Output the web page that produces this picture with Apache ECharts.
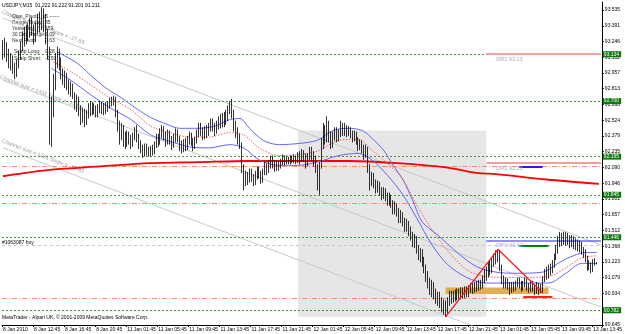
<!DOCTYPE html>
<html><head><meta charset="utf-8">
<script src="https://cdn.jsdelivr.net/npm/echarts@6/dist/echarts.min.js"></script>
<style>html,body{margin:0;padding:0;background:#fff}#c{width:625px;height:334px}</style>
</head><body><div id="c"></div>
<script>
// ---- data ----
const barCount = 309;
const timeLabels = ['8 Jan 2010','8 Jan 12:45','8 Jan 16:45','8 Jan 20:45','11 Jan 01:45','11 Jan 05:45','11 Jan 09:45','11 Jan 13:45','11 Jan 17:45','11 Jan 21:45','12 Jan 01:45','12 Jan 05:45','12 Jan 09:45','12 Jan 13:45','12 Jan 17:45','12 Jan 21:45','13 Jan 01:45','13 Jan 05:45','13 Jan 09:45','13 Jan 13:45'];
const priceTicks = [93.535,93.391,93.246,93.102,92.957,92.813,92.668,92.524,92.379,92.235,92.090,91.946,91.801,91.657,91.512,91.368,91.223,91.079,90.934,90.790,90.645];

const opens = [93.20,93.12,93.22,93.15,93.05,93.10,93.00,92.96,93.04,93.12,
93.20,93.30,93.26,93.36,93.32,93.40,93.34,93.28,93.36,93.44,
93.40,93.48,93.40,93.30,93.15,92.50,92.70,92.90,93.10,93.15,
93.05,92.95,92.90,92.94,92.86,92.80,92.84,92.76,92.68,92.72,
92.62,92.55,92.60,92.52,92.58,92.64,92.60,92.66,92.62,92.58,
92.63,92.67,92.61,92.65,92.62,92.66,92.70,92.68,92.72,92.60,
92.48,92.40,92.46,92.38,92.32,92.40,92.36,92.30,92.38,92.42,
92.36,92.30,92.26,92.22,92.28,92.24,92.20,92.25,92.22,92.30,
92.36,92.32,92.40,92.44,92.38,92.34,92.40,92.35,92.30,92.36,
92.42,92.36,92.30,92.26,92.32,92.28,92.34,92.38,92.33,92.28,
92.34,92.40,92.46,92.42,92.38,92.44,92.40,92.45,92.50,92.46,
92.42,92.48,92.52,92.48,92.55,92.50,92.56,92.62,92.66,92.58,
92.48,92.42,92.36,92.30,92.10,91.96,92.02,91.98,92.04,92.00,
91.96,92.02,92.07,92.03,91.98,92.04,92.10,92.06,92.12,92.16,
92.12,92.08,92.13,92.10,92.14,92.18,92.14,92.17,92.14,92.18,
92.15,92.18,92.16,92.20,92.17,92.22,92.18,92.14,92.19,92.24,
92.20,92.16,92.10,91.98,92.10,92.30,92.42,92.36,92.45,92.38,
92.30,92.38,92.42,92.36,92.40,92.46,92.42,92.46,92.41,92.44,
92.40,92.36,92.40,92.34,92.28,92.32,92.26,92.22,92.26,92.10,
91.96,92.02,91.96,91.90,91.94,91.88,91.84,91.88,91.82,91.78,
91.82,91.76,91.70,91.74,91.68,91.62,91.66,91.60,91.54,91.58,
91.52,91.46,91.40,91.44,91.36,91.28,91.32,91.24,91.18,91.10,
91.04,90.98,91.02,90.94,90.88,90.92,90.86,90.80,90.84,90.78,
90.86,90.92,90.88,90.93,90.90,90.94,90.91,90.95,90.92,90.96,
90.93,90.97,91.00,90.96,91.01,90.98,91.03,91.00,91.06,91.12,
91.10,91.18,91.15,91.22,91.28,91.26,91.30,91.18,91.06,91.00,
91.04,91.00,90.96,91.01,90.98,91.02,91.06,91.02,90.98,91.02,
91.05,91.00,90.97,91.02,90.98,90.95,91.00,90.96,90.98,91.06,
91.12,91.10,91.16,91.14,91.20,91.26,91.34,91.40,91.46,91.42,
91.48,91.42,91.45,91.40,91.44,91.38,91.41,91.36,91.39,91.33,
91.30,91.26,91.18,91.20,91.16,91.22,91.222];
const closes = [93.12,93.22,93.15,93.05,93.10,93.00,92.96,93.04,93.12,93.20,
93.30,93.26,93.36,93.32,93.40,93.34,93.28,93.36,93.44,93.40,
93.48,93.40,93.30,93.15,92.50,92.70,92.90,93.10,93.15,93.05,
92.95,92.90,92.94,92.86,92.80,92.84,92.76,92.68,92.72,92.62,
92.55,92.60,92.52,92.58,92.64,92.60,92.66,92.62,92.58,92.63,
92.67,92.61,92.65,92.62,92.66,92.70,92.68,92.72,92.60,92.48,
92.40,92.46,92.38,92.32,92.40,92.36,92.30,92.38,92.42,92.36,
92.30,92.26,92.22,92.28,92.24,92.20,92.25,92.22,92.30,92.36,
92.32,92.40,92.44,92.38,92.34,92.40,92.35,92.30,92.36,92.42,
92.36,92.30,92.26,92.32,92.28,92.34,92.38,92.33,92.28,92.34,
92.40,92.46,92.42,92.38,92.44,92.40,92.45,92.50,92.46,92.42,
92.48,92.52,92.48,92.55,92.50,92.56,92.62,92.66,92.58,92.48,
92.42,92.36,92.30,92.10,91.96,92.02,91.98,92.04,92.00,91.96,
92.02,92.07,92.03,91.98,92.04,92.10,92.06,92.12,92.16,92.12,
92.08,92.13,92.10,92.14,92.18,92.14,92.17,92.14,92.18,92.15,
92.18,92.16,92.20,92.17,92.22,92.18,92.14,92.19,92.24,92.20,
92.16,92.10,91.98,92.10,92.30,92.42,92.36,92.45,92.38,92.30,
92.38,92.42,92.36,92.40,92.46,92.42,92.46,92.41,92.44,92.40,
92.36,92.40,92.34,92.28,92.32,92.26,92.22,92.26,92.10,91.96,
92.02,91.96,91.90,91.94,91.88,91.84,91.88,91.82,91.78,91.82,
91.76,91.70,91.74,91.68,91.62,91.66,91.60,91.54,91.58,91.52,
91.46,91.40,91.44,91.36,91.28,91.32,91.24,91.18,91.10,91.04,
90.98,91.02,90.94,90.88,90.92,90.86,90.80,90.84,90.78,90.86,
90.92,90.88,90.93,90.90,90.94,90.91,90.95,90.92,90.96,90.93,
90.97,91.00,90.96,91.01,90.98,91.03,91.00,91.06,91.12,91.10,
91.18,91.15,91.22,91.28,91.26,91.30,91.18,91.06,91.00,91.04,
91.00,90.96,91.01,90.98,91.02,91.06,91.02,90.98,91.02,91.05,
91.00,90.97,91.02,90.98,90.95,91.00,90.96,90.98,91.06,91.12,
91.10,91.16,91.14,91.20,91.26,91.34,91.40,91.46,91.42,91.48,
91.42,91.45,91.40,91.44,91.38,91.41,91.36,91.39,91.33,91.30,
91.26,91.18,91.20,91.16,91.22,91.222,91.211];
const lows = [93.08,93.10,93.06,93.00,92.98,92.95,92.90,92.92,93.00,93.08,
93.16,93.20,93.22,93.25,93.28,93.30,93.22,93.24,93.32,93.33,
93.35,93.33,93.22,93.08,92.30,92.28,92.55,92.80,93.00,92.98,
92.90,92.85,92.82,92.80,92.76,92.74,92.72,92.62,92.60,92.56,
92.48,92.50,92.46,92.48,92.54,92.56,92.57,92.58,92.55,92.55,
92.59,92.58,92.57,92.58,92.60,92.63,92.65,92.66,92.55,92.42,
92.30,92.34,92.28,92.26,92.28,92.30,92.26,92.28,92.34,92.32,
92.26,92.22,92.18,92.19,92.20,92.19,92.19,92.20,92.21,92.27,
92.28,92.30,92.36,92.34,92.28,92.30,92.30,92.25,92.27,92.32,
92.32,92.24,92.22,92.23,92.24,92.25,92.30,92.29,92.24,92.26,
92.31,92.37,92.38,92.34,92.35,92.36,92.38,92.42,92.42,92.38,
92.40,92.44,92.45,92.46,92.46,92.48,92.52,92.58,92.54,92.42,
92.36,92.30,92.26,92.04,91.88,91.92,91.93,91.95,91.96,91.92,
91.93,91.98,91.99,91.94,91.95,92.02,92.02,92.04,92.08,92.08,
92.05,92.06,92.06,92.08,92.11,92.11,92.12,92.12,92.12,92.13,
92.13,92.12,92.13,92.12,92.14,92.14,92.08,92.10,92.16,92.15,
92.10,92.04,91.88,91.84,92.08,92.26,92.30,92.32,92.32,92.26,
92.27,92.34,92.32,92.33,92.37,92.38,92.38,92.37,92.38,92.36,
92.32,92.33,92.30,92.24,92.25,92.22,92.16,92.18,92.04,91.88,
91.92,91.90,91.85,91.86,91.83,91.79,91.80,91.78,91.74,91.74,
91.72,91.66,91.66,91.64,91.58,91.58,91.55,91.50,91.50,91.46,
91.42,91.36,91.35,91.30,91.24,91.22,91.18,91.12,91.04,90.98,
90.92,90.90,90.88,90.84,90.82,90.80,90.76,90.74,90.72,90.75,
90.82,90.84,90.85,90.86,90.87,90.88,90.88,90.89,90.89,90.90,
90.90,90.94,90.93,90.94,90.95,90.96,90.97,90.98,91.03,91.05,
91.08,91.10,91.12,91.18,91.20,91.22,91.14,91.02,90.98,90.98,
90.97,90.92,90.94,90.95,90.96,90.99,90.98,90.95,90.96,90.99,
90.96,90.94,90.95,90.95,90.92,90.93,90.92,90.94,90.94,91.04,
91.06,91.07,91.10,91.12,91.17,91.24,91.30,91.36,91.37,91.38,
91.37,91.38,91.35,91.36,91.34,91.33,91.32,91.31,91.29,91.26,
91.22,91.14,91.15,91.12,91.13,91.19,91.201];
const highs = [93.26,93.28,93.24,93.18,93.14,93.12,93.05,93.08,93.16,93.25,
93.34,93.38,93.40,93.42,93.46,93.47,93.40,93.42,93.50,93.52,
93.56,93.55,93.50,93.36,93.20,92.74,92.95,93.14,93.20,93.18,
93.10,93.00,92.98,92.96,92.90,92.88,92.86,92.78,92.76,92.74,
92.66,92.64,92.63,92.62,92.68,92.70,92.69,92.68,92.66,92.67,
92.70,92.69,92.68,92.69,92.70,92.73,92.74,92.75,92.74,92.62,
92.52,92.50,92.48,92.42,92.43,92.42,92.39,92.41,92.46,92.48,
92.40,92.34,92.30,92.31,92.31,92.28,92.29,92.30,92.33,92.40,
92.40,92.45,92.48,92.47,92.42,92.44,92.43,92.38,92.40,92.45,
92.44,92.38,92.34,92.35,92.36,92.38,92.42,92.41,92.36,92.37,
92.44,92.50,92.50,92.46,92.47,92.48,92.50,92.54,92.54,92.50,
92.52,92.56,92.58,92.59,92.60,92.62,92.66,92.70,92.72,92.62,
92.52,92.46,92.40,92.32,92.12,92.06,92.05,92.08,92.08,92.03,
92.06,92.10,92.10,92.06,92.08,92.14,92.13,92.16,92.20,92.20,
92.16,92.16,92.15,92.17,92.21,92.20,92.19,92.19,92.20,92.20,
92.21,92.20,92.23,92.24,92.26,92.25,92.22,92.22,92.28,92.28,
92.24,92.20,92.12,92.14,92.36,92.50,92.48,92.56,92.52,92.42,
92.42,92.46,92.46,92.44,92.52,92.50,92.50,92.48,92.47,92.46,
92.43,92.43,92.42,92.37,92.35,92.34,92.30,92.30,92.28,92.12,
92.05,92.04,91.98,91.97,91.96,91.91,91.91,91.90,91.86,91.86,
91.84,91.79,91.78,91.76,91.72,91.70,91.68,91.63,91.62,91.60,
91.55,91.50,91.48,91.46,91.38,91.35,91.34,91.27,91.20,91.14,
91.08,91.06,91.04,90.98,90.95,90.95,90.90,90.88,90.87,90.90,
90.96,90.96,90.96,90.97,90.98,90.98,90.99,90.99,91.00,91.00,
91.01,91.03,91.03,91.04,91.05,91.06,91.06,91.10,91.16,91.18,
91.22,91.24,91.26,91.30,91.33,91.34,91.33,91.20,91.10,91.08,
91.07,91.04,91.04,91.04,91.05,91.08,91.08,91.05,91.05,91.08,
91.07,91.03,91.05,91.05,91.02,91.04,91.03,91.02,91.09,91.16,
91.18,91.20,91.21,91.24,91.30,91.38,91.46,91.50,91.49,91.50,
91.50,91.49,91.47,91.47,91.46,91.44,91.43,91.42,91.41,91.36,
91.34,91.28,91.24,91.22,91.25,91.26,91.222];

// indicator lines: [bar index, price]
const longMA = [[0,92.01],[25,92.07],[50,92.10],[76,92.13],[101,92.14],[127,92.15],[152,92.15],[178,92.15],[203,92.13],[229,92.09],[244,92.04],[254,92.03],[280,91.98],[307,91.94]];
const upperBand = [[28,93.15],[38,93.05],[45,92.94],[53,92.82],[61,92.73],[68,92.64],[76,92.55],[84,92.49],[91,92.45],[101,92.45],[109,92.47],[117,92.53],[122,92.54],[127,92.45],[134,92.34],[142,92.30],[152,92.31],[162,92.34],[170,92.43],[178,92.45],[185,92.43],[190,92.36],[196,92.25],[201,92.11],[206,91.98],[211,91.79],[216,91.59],[224,91.47],[234,91.31],[244,91.18],[254,91.13],[264,91.12],[278,91.13],[285,91.20],[291,91.26],[300,91.31],[306,91.31]];
const midBand = [[26,93.06],[35,92.97],[45,92.85],[55,92.73],[66,92.62],[76,92.47],[86,92.41],[96,92.37],[106,92.37],[117,92.41],[124,92.39],[132,92.27],[142,92.20],[152,92.21],[162,92.24],[173,92.34],[183,92.35],[190,92.25],[198,92.13],[206,91.98],[213,91.75],[221,91.52],[229,91.33],[239,91.15],[249,91.09],[264,91.08],[281,91.09],[290,91.17],[298,91.26],[306,91.28]];
const lowerBand = [[25,93.00],[35,92.89],[45,92.76],[55,92.64],[66,92.53],[76,92.39],[86,92.33],[96,92.28],[106,92.27],[117,92.30],[124,92.27],[132,92.16],[142,92.11],[152,92.11],[162,92.14],[173,92.20],[183,92.22],[190,92.16],[198,92.02],[206,91.84],[213,91.63],[221,91.38],[229,91.20],[239,91.08],[249,91.03],[281,91.03],[290,91.12],[298,91.21],[306,91.21]];
const channelTop = [[0,93.46],[308,91.38]];
const channelMid = [[0,92.89],[308,90.81]];
const channelLow = [[0,92.27],[308,90.19]];
const zigzag = [[228,90.72],[255,91.34],[278,90.94]];
const greenLevels = [93.134,92.700,92.195,91.845,91.446,90.782];
const orangeLevels = [92.100,91.760,90.890];
const pivots = {DR2:93.13, DR1:92.13, DPV:91.42};
const bid = 91.211;

const cats = Array.from({length: barCount}, (_, i) => String(i));
const candles = opens.map((o, i) => [o, closes[i], lows[i], highs[i]]);

const chart = echarts.init(document.getElementById('c'), null, {renderer: 'canvas'});
const F = 'Liberation Sans, Arial, sans-serif';
const lvl = (v, color, type, box) => ({
  yAxis: v,
  lineStyle: {color: color, type: type, width: 1},
  label: box ? {show: true, position: 'end', distance: 1, formatter: v.toFixed(3), backgroundColor: '#0a7a0a', color: '#fff', fontSize: 5, fontFamily: F, padding: [1, 2, 0, 1]} : {show: false}
});
const seg = (i0, i1, v, color, width, label) => [
  {coord: [i0, v], lineStyle: {color: color, width: width, type: 'solid'},
   label: label ? {show: true, position: 'insideStartBottom', formatter: label, color: '#a6a6c8', fontSize: 5.5, fontFamily: F, distance: [10, 2]} : {show: false}},
  {coord: [i1, v]}
];

chart.setOption({
  animation: false,
  backgroundColor: '#ffffff',
  grid: {left: 0, right: 18, top: 2, bottom: 9},
  xAxis: {
    type: 'category', data: cats, boundaryGap: true,
    axisLine: {lineStyle: {color: '#000', width: 1}},
    axisTick: {show: true, length: 2, interval: (i) => i % 16 === 0, lineStyle: {color: '#000'}},
    axisLabel: {interval: (i) => i % 16 === 0, formatter: (v, i) => timeLabels[Math.round(Number(v) / 16)] || '', fontSize: 5, fontFamily: F, color: '#000', align: 'left', margin: 2},
    splitLine: {show: false}
  },
  yAxis: {
    type: 'value', position: 'right', min: 90.645, max: 93.609, scale: true,
    axisLine: {show: true, lineStyle: {color: '#000', width: 1}},
    axisTick: {show: true, length: 2, customValues: priceTicks, lineStyle: {color: '#000'}},
    axisLabel: {customValues: priceTicks, formatter: (v) => v.toFixed(3), fontSize: 5, fontFamily: F, color: '#000', margin: 3},
    splitLine: {show: false}
  },
  series: [
    {type: 'line', data: [], z: 1, silent: true,
     markArea: {silent: true, data: [
       [{coord: [152, 92.43], itemStyle: {color: '#e6e6e6'}}, {coord: [249, 90.72]}]
     ]}},
    {type: 'line', data: channelTop, showSymbol: false, silent: true, z: 2, lineStyle: {color: '#c8c8c8', width: 1}},
    {type: 'line', data: channelMid, showSymbol: false, silent: true, z: 2, lineStyle: {color: '#c8c8c8', width: 1}},
    {type: 'line', data: channelLow, showSymbol: false, silent: true, z: 2, lineStyle: {color: '#c8c8d8', width: 1}},
    {type: 'line', data: [], z: 3, silent: true,
     markLine: {silent: true, symbol: 'none', animation: false, data: [
       ...greenLevels.map(v => lvl(v, '#3a9a3a', [2, 2], true)),
       ...orangeLevels.map(v => lvl(v, '#ff8a6a', [5, 2, 1, 2], false)),
       lvl(91.38, '#b8d0b8', [3, 3], false),
       seg(249, 308, pivots.DR2, '#f2a0a0', 2, 'DR2 93.13'),
       seg(249, 308, pivots.DR1, '#f2a0a0', 2, 'DR1 92.13'),
       seg(249, 308, pivots.DPV, '#6a6aff', 1.5, 'DPV 91.42'),
       seg(266, 281, 91.37, '#008000', 2, null),
       seg(266, 278, 92.10, '#2020ff', 2, null),
       seg(268, 283, 90.90, '#ff2020', 2, null),
       {yAxis: bid, lineStyle: {opacity: 0}, label: {show: true, position: 'end', distance: 1, formatter: bid.toFixed(3), backgroundColor: '#000', color: '#fff', fontSize: 5, fontFamily: F, padding: [1, 2, 0, 1]}}
     ]}},
    {type: 'line', data: [], z: 4, silent: true,
     markArea: {silent: true, data: [
       [{coord: [228, 90.99], itemStyle: {color: '#dca640', opacity: 0.9}}, {coord: [281, 90.93]}]
     ]}},
    {type: 'line', data: longMA, showSymbol: false, smooth: 0.3, silent: true, z: 5, lineStyle: {color: '#ff0000', width: 1.8}},
    {type: 'line', data: upperBand, showSymbol: false, smooth: 0.3, silent: true, z: 5, lineStyle: {color: '#6464ff', width: 1}},
    {type: 'line', data: lowerBand, showSymbol: false, smooth: 0.3, silent: true, z: 5, lineStyle: {color: '#6464ff', width: 1}},
    {type: 'line', data: midBand, showSymbol: false, smooth: 0.3, silent: true, z: 5, lineStyle: {color: '#ff5a5a', width: 1, type: [1.5, 1.5]}},
    {type: 'candlestick', data: candles, z: 6, barWidth: 1.2, silent: true,
     itemStyle: {color: '#000000', color0: '#000000', borderColor: '#000000', borderColor0: '#000000', borderWidth: 0.8}},
    {type: 'line', data: zigzag, showSymbol: false, silent: true, z: 7, lineStyle: {color: '#ff1010', width: 1.2}}
  ],
  graphic: [
    {type: 'text', left: 2, top: 3, style: {text: 'USDJPY,M15  91.222 91.222 91.201 91.211', fontSize: 5, fontFamily: F, fill: '#000'}},
    {type: 'text', x: 3, y: 9, rotation: -0.36, style: {text: 'Channel size = 1431 Slope = -27.83', fontSize: 5.5, fontFamily: F, fill: '#9a9a9a'}},
    {type: 'text', x: 1, y: 74, rotation: -0.36, style: {text: 'Channel size = 1431 Slope = -27.83', fontSize: 5.5, fontFamily: F, fill: '#9a9a9a'}},
    {type: 'text', x: 3, y: 138, rotation: -0.36, style: {text: 'Channel size = 1131 Slope = -27.83', fontSize: 5.5, fontFamily: F, fill: '#9a9a9a'}},
    {type: 'text', left: 12, top: 14, style: {text: 'Qian_PivotD_v5 ------', fontSize: 5, fontFamily: F, fill: '#333'}},
    {type: 'text', left: 12, top: 20, style: {text: 'Range Today:\nYesterday:\n30 Day Range:\nNext Pivot:', fontSize: 5, lineHeight: 6, fontFamily: F, fill: '#333'}},
    {type: 'text', left: 45, top: 20, style: {text: '85\n159\n1.09\n0.63', fontSize: 5, lineHeight: 6, fontFamily: F, fill: '#333'}},
    {type: 'text', left: 14, top: 48, style: {text: 'Scalp Long:\nScalp Short:', fontSize: 5, lineHeight: 7, fontFamily: F, fill: '#333'}},
    {type: 'text', left: 45, top: 48, style: {text: '0.28\n-0.50', fontSize: 5, lineHeight: 7, fontFamily: F, fill: '#333'}},
    {type: 'text', left: 2, top: 240, style: {text: '#1063087 buy', fontSize: 5, fontFamily: F, fill: '#000'}},
    {type: 'text', left: 2, top: 315, style: {text: 'MetaTrader - Alpari UK, \u00a9 2001-2009 MetaQuotes Software Corp.', fontSize: 5, fontFamily: F, fill: '#000'}}
  ]
});
</script></body></html>
